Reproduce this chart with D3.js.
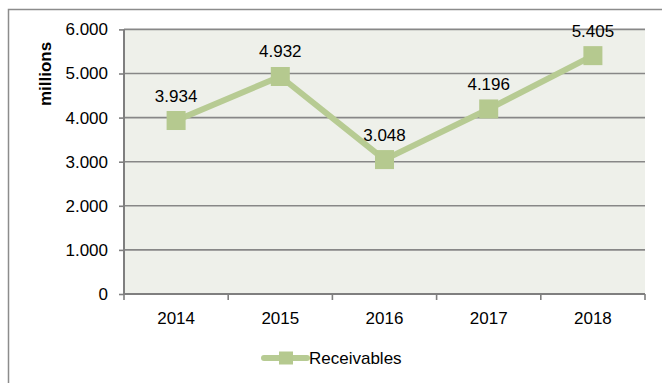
<!DOCTYPE html>
<html><head><meta charset="utf-8">
<script src="https://cdn.jsdelivr.net/npm/d3@7/dist/d3.min.js"></script>
<style>body{margin:0;background:#fff}svg{display:block}text{font-family:"Liberation Sans",Arial,sans-serif}</style>
</head><body><svg id="c" width="662" height="383"></svg>
<script>
const years = ["2014","2015","2016","2017","2018"];
const receivables = [3934, 4932, 3048, 4196, 5405];
const yTicks = [0,1000,2000,3000,4000,5000,6000];
const seriesName = "Receivables";

const svg = d3.select("#c");
const L = 124, R = 645, T = 29.4, B = 294;
const FS = 17;
const fmtLabel = v => (v/1000).toFixed(3);
const yTickFmt = v => v === 0 ? "0" : (v/1000).toFixed(3);

// outer border
svg.append("rect").attr("x",8.5).attr("y",9.5).attr("width",700).attr("height",400)
  .attr("fill","#fff").attr("stroke","#8c8c8c").attr("stroke-width",1.5);

const x = d3.scaleBand().domain(years).range([L,R]);
const y = d3.scaleLinear().domain([0,6000]).range([B,T]);

svg.append("rect").attr("x",L).attr("y",T).attr("width",R-L).attr("height",B-T).attr("fill","#eef0ea");

// gridlines
svg.append("g").selectAll("line").data(yTicks.filter(d=>d>0)).join("line")
  .attr("x1",L).attr("x2",R).attr("y1",d=>y(d)).attr("y2",d=>y(d))
  .attr("stroke","#878787").attr("stroke-width",1.6);

// y axis
const ya = svg.append("g").attr("transform",`translate(${L},0)`)
  .call(d3.axisLeft(y).tickValues(yTicks).tickFormat(yTickFmt).tickSize(5).tickPadding(11));
ya.select(".domain").attr("stroke","#7f7f7f").attr("stroke-width",2).attr("d",`M0,${T}V${B}`);
ya.selectAll(".tick line").attr("stroke","#7f7f7f").attr("stroke-width",1.6);
ya.selectAll("text").attr("font-size",FS).attr("fill","#000");

// x axis
const xa = svg.append("g").attr("transform",`translate(0,${B})`)
  .call(d3.axisBottom(x).tickSize(0).tickPadding(18));
xa.select(".domain").attr("stroke","#7f7f7f").attr("stroke-width",2).attr("d",`M${L},0H${R}`);
xa.selectAll("text").attr("font-size",FS).attr("fill","#000");
const bounds = years.map(d=>x(d)).concat([R]);
xa.append("g").selectAll("line").data(bounds).join("line")
  .attr("x1",d=>d).attr("x2",d=>d).attr("y1",0).attr("y2",6)
  .attr("stroke","#7f7f7f").attr("stroke-width",1.6);

// y title
svg.append("text").attr("transform",`translate(51,74) rotate(-90)`)
  .attr("text-anchor","middle").attr("font-size",FS).attr("font-weight","bold").text("millions");

const cx = d => x(d) + x.bandwidth()/2;
const lineColor = "#b7cb93";
svg.append("path").datum(receivables)
  .attr("d", d3.line().x((d,i)=>cx(years[i])).y(d=>y(d)))
  .attr("fill","none").attr("stroke",lineColor).attr("stroke-width",6).attr("stroke-linejoin","round");
const ms = 19;
svg.append("g").selectAll("rect").data(receivables).join("rect")
  .attr("x",(d,i)=>cx(years[i])-ms/2).attr("y",d=>y(d)-ms/2).attr("width",ms).attr("height",ms)
  .attr("fill","#b5c98f");
svg.append("g").selectAll("text").data(receivables).join("text")
  .attr("x",(d,i)=>cx(years[i])).attr("y",d=>y(d)-19)
  .attr("text-anchor","middle").attr("font-size",FS).text(d=>fmtLabel(d));

// legend
const ly = 358;
svg.append("line").attr("x1",264).attr("x2",307).attr("y1",ly).attr("y2",ly)
  .attr("stroke",lineColor).attr("stroke-width",6).attr("stroke-linecap","round");
svg.append("rect").attr("x",286-7).attr("y",ly-6.5).attr("width",14).attr("height",13).attr("fill","#b5c98f");
svg.append("text").attr("x",309).attr("y",ly+6).attr("font-size",FS).text(seriesName);
</script></body></html>
